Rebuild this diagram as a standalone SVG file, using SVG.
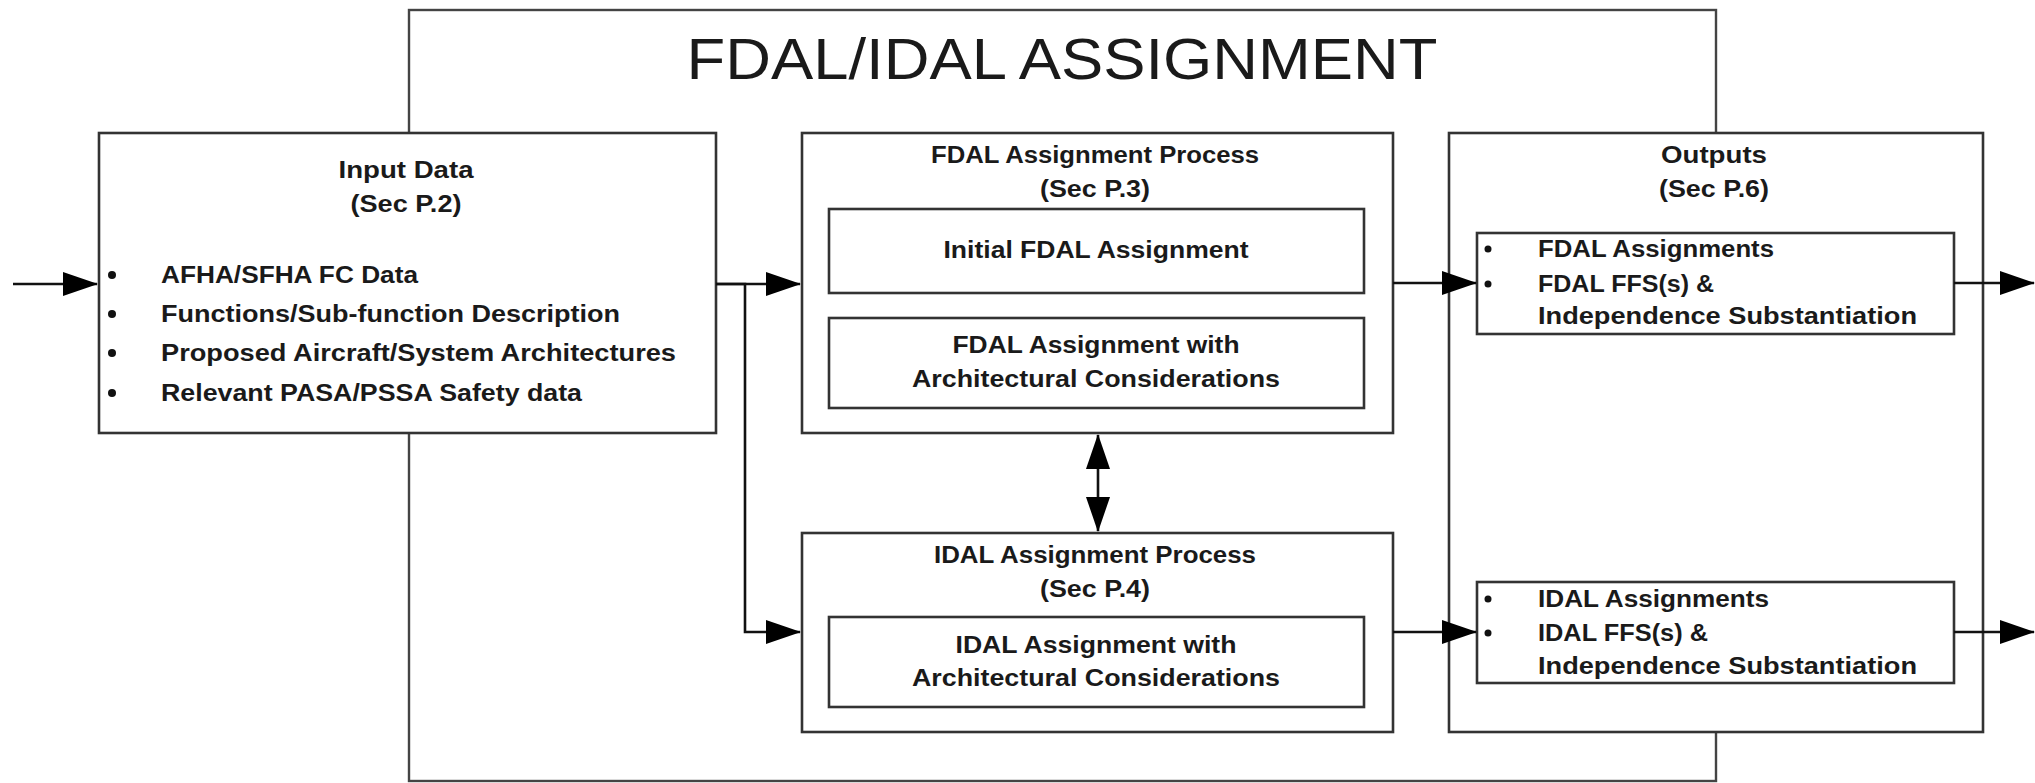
<svg xmlns="http://www.w3.org/2000/svg" width="2035" height="783" viewBox="0 0 2035 783">
  <style>
    .box { fill: #ffffff; stroke: #333333; stroke-width: 2.6; }
    .frame { fill: none; stroke: #444444; stroke-width: 2.4; }
    .t { font-family: "Liberation Sans", Arial, sans-serif; font-weight: bold; font-size: 23px; fill: #1a1a1a; }
    .c { text-anchor: middle; }
    .title { font-family: "Liberation Sans", Arial, sans-serif; font-size: 58px; fill: #1a1a1a; text-anchor: middle; }
    .wire { fill: none; stroke: #111111; stroke-width: 2.6; }
    .dot { fill: #111111; }
  </style>
  <defs>
    <marker id="head" viewBox="0 0 35 24" refX="34" refY="12" markerWidth="35" markerHeight="24" markerUnits="userSpaceOnUse" orient="auto-start-reverse">
      <path d="M0,0 L35,12 L0,24 z" fill="#000000"/>
    </marker>
  </defs>

  <!-- enclosing frame with heading -->
  <g id="frame">
    <rect class="frame" x="409" y="10" width="1307" height="771"/>
    <text class="title" x="1062" y="79" textLength="751" lengthAdjust="spacingAndGlyphs">FDAL/IDAL ASSIGNMENT</text>
  </g>

  <!-- input data block -->
  <g id="input-data">
    <rect class="box" x="99" y="133" width="617" height="300"/>
    <text class="t c" x="406" y="178" textLength="135" lengthAdjust="spacingAndGlyphs">Input Data</text>
    <text class="t c" x="406" y="212" textLength="111" lengthAdjust="spacingAndGlyphs">(Sec P.2)</text>
    <circle class="dot" cx="112" cy="275" r="4"/>
    <circle class="dot" cx="112" cy="314" r="4"/>
    <circle class="dot" cx="112" cy="353" r="4"/>
    <circle class="dot" cx="112" cy="393" r="4"/>
    <text class="t" x="161" y="283" textLength="257" lengthAdjust="spacingAndGlyphs">AFHA/SFHA FC Data</text>
    <text class="t" x="161" y="322" textLength="459" lengthAdjust="spacingAndGlyphs">Functions/Sub-function Description</text>
    <text class="t" x="161" y="361" textLength="515" lengthAdjust="spacingAndGlyphs">Proposed Aircraft/System Architectures</text>
    <text class="t" x="161" y="401" textLength="421" lengthAdjust="spacingAndGlyphs">Relevant PASA/PSSA Safety data</text>
  </g>

  <!-- FDAL assignment process -->
  <g id="fdal-process">
    <rect class="box" x="802" y="133" width="591" height="300"/>
    <text class="t c" x="1095" y="163" textLength="328" lengthAdjust="spacingAndGlyphs">FDAL Assignment Process</text>
    <text class="t c" x="1095" y="197" textLength="110" lengthAdjust="spacingAndGlyphs">(Sec P.3)</text>
    <rect class="box" x="829" y="209" width="535" height="84"/>
    <text class="t c" x="1096" y="258" textLength="305" lengthAdjust="spacingAndGlyphs">Initial FDAL Assignment</text>
    <rect class="box" x="829" y="318" width="535" height="90"/>
    <text class="t c" x="1096" y="353" textLength="287" lengthAdjust="spacingAndGlyphs">FDAL Assignment with</text>
    <text class="t c" x="1096" y="387" textLength="368" lengthAdjust="spacingAndGlyphs">Architectural Considerations</text>
  </g>

  <!-- IDAL assignment process -->
  <g id="idal-process">
    <rect class="box" x="802" y="533" width="591" height="199"/>
    <text class="t c" x="1095" y="563" textLength="322" lengthAdjust="spacingAndGlyphs">IDAL Assignment Process</text>
    <text class="t c" x="1095" y="597" textLength="110" lengthAdjust="spacingAndGlyphs">(Sec P.4)</text>
    <rect class="box" x="829" y="617" width="535" height="90"/>
    <text class="t c" x="1096" y="653" textLength="281" lengthAdjust="spacingAndGlyphs">IDAL Assignment with</text>
    <text class="t c" x="1096" y="686" textLength="368" lengthAdjust="spacingAndGlyphs">Architectural Considerations</text>
  </g>

  <!-- outputs block -->
  <g id="outputs">
    <rect class="box" x="1449" y="133" width="534" height="599"/>
    <text class="t c" x="1714" y="163" textLength="106" lengthAdjust="spacingAndGlyphs">Outputs</text>
    <text class="t c" x="1714" y="197" textLength="110" lengthAdjust="spacingAndGlyphs">(Sec P.6)</text>
  </g>

  <g id="fdal-outputs">
    <rect class="box" x="1477" y="233" width="477" height="101"/>
    <circle class="dot" cx="1488" cy="249" r="3.5"/>
    <circle class="dot" cx="1488" cy="284" r="3.5"/>
    <text class="t" x="1538" y="257" textLength="236" lengthAdjust="spacingAndGlyphs">FDAL Assignments</text>
    <text class="t" x="1538" y="292" textLength="176" lengthAdjust="spacingAndGlyphs">FDAL FFS(s) &amp;</text>
    <text class="t" x="1538" y="324" textLength="379" lengthAdjust="spacingAndGlyphs">Independence Substantiation</text>
  </g>

  <g id="idal-outputs">
    <rect class="box" x="1477" y="582" width="477" height="101"/>
    <circle class="dot" cx="1488" cy="599" r="3.5"/>
    <circle class="dot" cx="1488" cy="633" r="3.5"/>
    <text class="t" x="1538" y="607" textLength="231" lengthAdjust="spacingAndGlyphs">IDAL Assignments</text>
    <text class="t" x="1538" y="641" textLength="170" lengthAdjust="spacingAndGlyphs">IDAL FFS(s) &amp;</text>
    <text class="t" x="1538" y="674" textLength="379" lengthAdjust="spacingAndGlyphs">Independence Substantiation</text>
  </g>

  <!-- connectors -->
  <g id="connectors">
    <path class="wire" d="M13,284 H97" marker-end="url(#head)"/>
    <path class="wire" d="M716,284 H800" marker-end="url(#head)"/>
    <path class="wire" d="M716,284 H745 V632 H800" marker-end="url(#head)"/>
    <path class="wire" d="M1393,283 H1476" marker-end="url(#head)"/>
    <path class="wire" d="M1393,632 H1476" marker-end="url(#head)"/>
    <path class="wire" d="M1954,283 H2034" marker-end="url(#head)"/>
    <path class="wire" d="M1954,632 H2034" marker-end="url(#head)"/>
    <path class="wire" d="M1098,435 V531" marker-start="url(#head)" marker-end="url(#head)"/>
  </g>
</svg>
